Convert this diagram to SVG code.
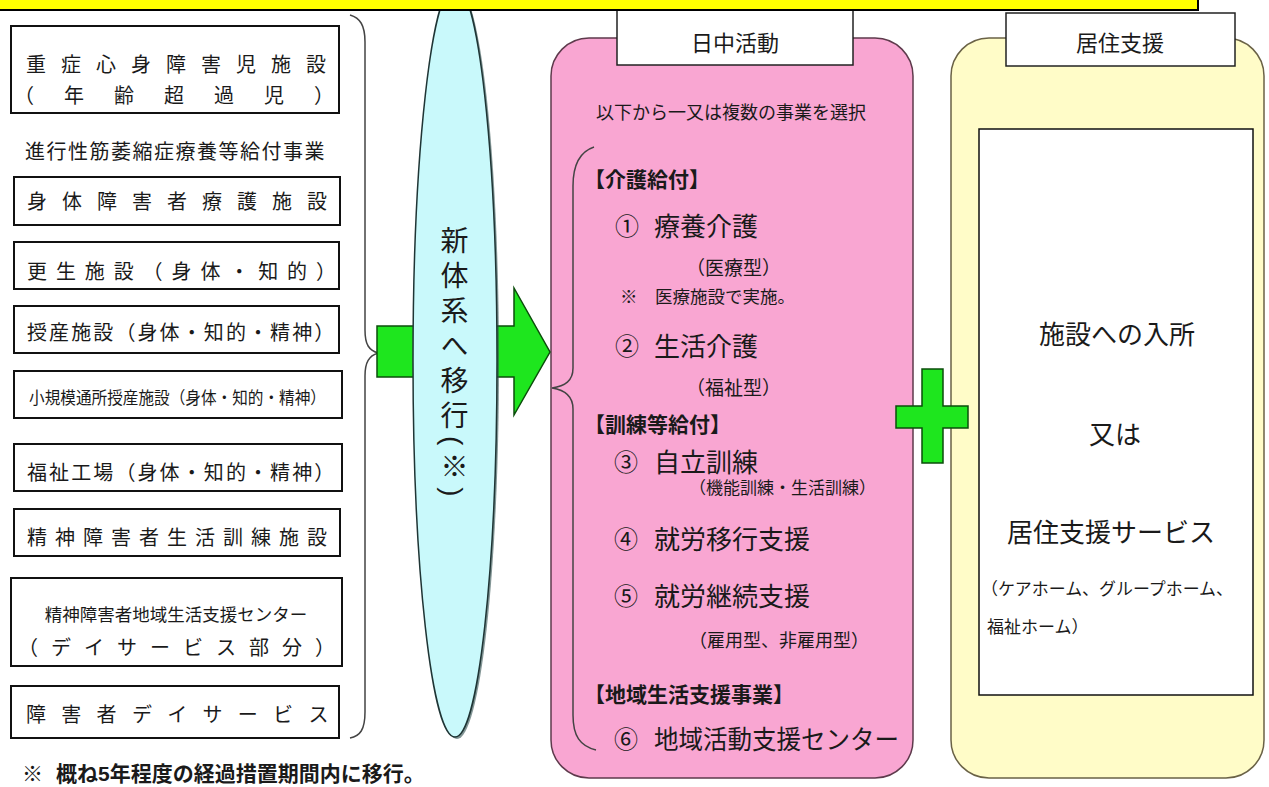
<svg xmlns="http://www.w3.org/2000/svg" width="1269" height="787" viewBox="0 0 1269 787">
<style>
text { font-family: 'Liberation Sans', 'Noto Sans CJK JP', sans-serif; fill: #1a1a1a; }
.box { fill: #ffffff; stroke: #111111; stroke-width: 2; }
.f20 { font-size: 20px; }
.f17 { font-size: 17px; }
.f18 { font-size: 18px; }
.f22 { font-size: 22px; }
.f26 { font-size: 26px; }
.hd { font-size: 21px; font-weight: bold; }
.num { font-size: 24px; text-anchor: middle; }
.mid { text-anchor: middle; }
.tab { fill: #ffffff; stroke: #222222; stroke-width: 1.5; }
.brace { fill: none; stroke: #444444; stroke-width: 1.5; }
.green { fill: #1ee61e; stroke: #0b4d0b; stroke-width: 1.5; }
</style>
<rect x="0" y="0" width="1269" height="787" fill="#ffffff"/>

<g id="old-juusho">
<rect class="box" x="11" y="26" width="328" height="87"/>
<text class="f20" x="26" y="72" style="letter-spacing:15px">重症心身障害児施設</text>
<text class="f20" x="14" y="103" style="letter-spacing:30px">（年齢超過児）</text>
</g>
<g id="old-kinishuku">
<text class="f20" x="25" y="159" style="letter-spacing:1.5px">進行性筋萎縮症療養等給付事業</text>
</g>
<g id="old-ryougo">
<rect class="box" x="14" y="177" width="326" height="48"/>
<text class="f20" x="27" y="209" style="letter-spacing:15px">身体障害者療護施設</text>
</g>
<g id="old-kousei">
<rect class="box" x="14" y="242" width="325" height="47"/>
<text class="f20" x="27" y="279" style="letter-spacing:8.9px">更生施設（身体・知的）</text>
</g>
<g id="old-jusan">
<rect class="box" x="14" y="306" width="325" height="47"/>
<text class="f20" x="27" y="340" style="letter-spacing:2.1px">授産施設（身体・知的・精神）</text>
</g>
<g id="old-shoukibo">
<rect class="box" x="14" y="371" width="328" height="47"/>
<text class="f17" x="29" y="404" textLength="297" lengthAdjust="spacingAndGlyphs">小規模通所授産施設（身体・知的・精神）</text>
</g>
<g id="old-fukushikoujou">
<rect class="box" x="14" y="444" width="328" height="47"/>
<text class="f20" x="27" y="480" style="letter-spacing:2.1px">福祉工場（身体・知的・精神）</text>
</g>
<g id="old-seikatsukunren">
<rect class="box" x="14" y="509" width="326" height="47"/>
<text class="f20" x="27" y="545" style="letter-spacing:8px">精神障害者生活訓練施設</text>
</g>
<g id="old-chiikicenter">
<rect class="box" x="11" y="578" width="331" height="88"/>
<text class="mid" x="176" y="621" style="font-size:17.5px">精神障害者地域生活支援センター</text>
<text class="f20" x="18" y="655" style="letter-spacing:13px">（デイサービス部分）</text>
</g>
<g id="old-dayservice">
<rect class="box" x="11" y="686" width="328" height="52"/>
<text class="f20" x="26" y="722" style="letter-spacing:15.3px">障害者デイサービス</text>
</g>
<g id="footnote">
<text x="22" y="781" style="font-size:21px">※<tspan x="56" style="font-weight:bold">概ね5年程度の経過措置期間内に移行。</tspan></text>
</g>

<g id="day-activity">
<rect x="551" y="38" width="362" height="740" rx="38" ry="38" fill="#f9a6d2" stroke="#5e3a4c" stroke-width="1.5"/>
<rect class="tab" x="617" y="2" width="236" height="63"/>
<text class="f22 mid" x="735" y="51">日中活動</text>
<text class="f18 mid" x="731" y="119">以下から一又は複数の事業を選択</text>
<text class="hd" x="584" y="187">【介護給付】</text>
<text class="num" x="627" y="235">①</text>
<text class="f26" x="654" y="236">療養介護</text>
<text x="686" y="275" style="font-size:19px">（医療型）</text>
<text x="620" y="303" style="font-size:17.5px">※<tspan x="655">医療施設で実施。</tspan></text>
<text class="num" x="627" y="355">②</text>
<text class="f26" x="654" y="356">生活介護</text>
<text x="686" y="395" style="font-size:19px">（福祉型）</text>
<text class="hd" x="584" y="432">【訓練等給付】</text>
<text class="num" x="626" y="471">③</text>
<text class="f26" x="654" y="472">自立訓練</text>
<text class="f17" x="689" y="494">（機能訓練・生活訓練）</text>
<text class="num" x="626" y="548">④</text>
<text class="f26" x="654" y="549">就労移行支援</text>
<text class="num" x="626" y="605">⑤</text>
<text class="f26" x="654" y="606">就労継続支援</text>
<text class="f18" x="689" y="647">（雇用型、非雇用型）</text>
<text class="hd" x="584" y="702">【地域生活支援事業】</text>
<text class="num" x="626" y="748">⑥</text>
<text class="f26" x="654" y="749" textLength="245" lengthAdjust="spacingAndGlyphs">地域活動支援センター</text>
</g>

<g id="residential-support">
<rect x="951" y="38" width="313" height="740" rx="38" ry="38" fill="#fffcc8" stroke="#6a6246" stroke-width="1.5"/>
<rect class="tab" x="1006" y="13" width="229" height="53"/>
<text class="f22 mid" x="1120" y="51">居住支援</text>
<rect x="979" y="129" width="274" height="566" fill="#ffffff" stroke="#111111" stroke-width="1.5"/>
<text class="f26 mid" x="1117" y="344">施設への入所</text>
<text class="f26 mid" x="1115" y="444">又は</text>
<text class="f26 mid" x="1111" y="542">居住支援サービス</text>
<text class="f17" x="981" y="595" textLength="252" lengthAdjust="spacingAndGlyphs">（ケアホーム、グループホーム、</text>
<text class="f17" x="987" y="633">福祉ホーム）</text>
</g>

<g id="connectors">
<path class="brace" d="M350,15 C360,18 365,25 365,42 L365,330 C365,345 369,350 378,353 C369,356 365,362 365,376 L365,712 C365,730 360,736 350,738"/>
<path class="green" d="M377,326 L514,326 L514,288 L550,352 L514,415 L514,377 L377,377 Z"/>
<path class="brace" stroke="#4a2a3a" d="M594,147 C579,152 573,165 573,186 L573,368 C573,381 565,386 552,388 C565,390 573,396 573,409 L573,715 C573,736 580,746 596,750"/>
<path class="green" d="M922,369 H943 V406 H968 V428 H943 V463 H922 V428 H896 V406 H922 Z"/>
</g>

<g id="transition">
<ellipse cx="457" cy="363" rx="42" ry="376" fill="#2f4f4f" opacity="0.6"/>
<ellipse cx="455" cy="361" rx="42" ry="376" fill="#c9f9fb" stroke="#1f3535" stroke-width="1.5"/>
<text x="452" y="226" style="writing-mode:vertical-rl;font-size:28px;letter-spacing:7px">新体系へ移行(※)</text>
</g>

<g id="top-bar">
<rect x="-5" y="-5" width="1203" height="15" fill="#ffff00" stroke="#000000" stroke-width="2"/>
</g>
</svg>
